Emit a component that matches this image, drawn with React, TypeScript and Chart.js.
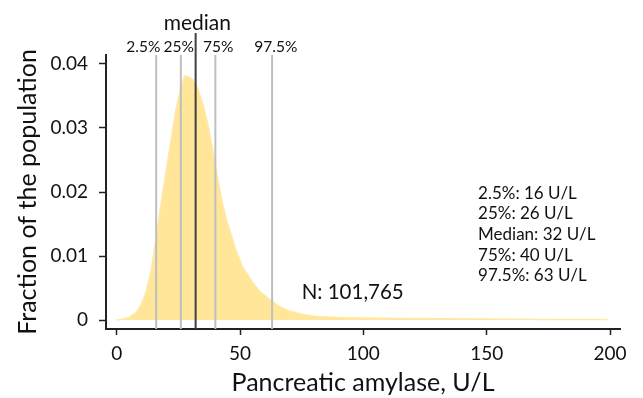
import { useEffect, useRef } from 'react';
import { Chart, registerables } from 'chart.js';

Chart.register(...registerables);

const FONT = 'Lato, "Open Sans", sans-serif';

// Density curve: amylase (U/L) vs fraction of the population
const amylase = [0, 2, 5, 8, 10, 12, 14, 16, 18, 20, 22, 24, 26, 27.5, 29, 31, 33, 35, 37, 39, 41, 43, 45, 48, 51, 55, 58, 62, 66, 70, 75, 80, 90, 100, 115, 130, 150, 175, 199];
const fraction = [0, 0.0001, 0.0004, 0.0012, 0.0024, 0.0045, 0.0078, 0.0128, 0.0182, 0.0232, 0.0280, 0.0328, 0.0362, 0.0381, 0.0380, 0.0375, 0.0360, 0.0336, 0.0305, 0.0264, 0.0220, 0.0180, 0.0150, 0.0113, 0.0083, 0.0059, 0.0045, 0.0032, 0.0021, 0.0014, 0.0009, 0.0006, 0.0004, 0.00032, 0.00025, 0.0002, 0.00015, 0.0001, 0.0001];

const xTicks = [0, 50, 100, 150, 200];
const yTicks = [0, 0.01, 0.02, 0.03, 0.04];
const xRange = [-4.34, 204.05];
const yRange = [-0.0014, 0.0414];

const percentileValues = [16, 26, 40, 63];
const percentileLabels = ['2.5%', '25%', '75%', '97.5%'];
const percentileLabelPos = [10.8, 25.1, 41.2, 64.5];
const medianValue = 32;
const medianLabel = 'median';
const medianLabelPos = 32.7;

const summaryLines = ['2.5%: 16 U/L', '25%: 26 U/L', 'Median: 32 U/L', '75%: 40 U/L', '97.5%: 63 U/L'];
const summaryPos = [146.5, 0.0199];
const nLabel = 'N: 101,765';
const nPos = [75, 0.00435];

const xTitle = 'Pancreatic amylase, U/L';
const yTitle = 'Fraction of the population';

const annotations = {
  id: 'annotations',
  afterDatasetsDraw(chart: any) {
    const { ctx, chartArea, scales } = chart;
    const x = scales.x;
    const y = scales.y;
    ctx.save();
    ctx.lineWidth = 2;
    ctx.strokeStyle = '#bfbfbf';
    percentileValues.forEach((v) => {
      const px = x.getPixelForValue(v);
      ctx.beginPath();
      ctx.moveTo(px, chartArea.top);
      ctx.lineTo(px, chartArea.bottom);
      ctx.stroke();
    });
    ctx.strokeStyle = '#404040';
    const mx = x.getPixelForValue(medianValue);
    ctx.beginPath();
    ctx.moveTo(mx, chartArea.top - 22);
    ctx.lineTo(mx, chartArea.bottom);
    ctx.stroke();

    ctx.fillStyle = '#111';
    ctx.textAlign = 'center';
    ctx.textBaseline = 'alphabetic';
    ctx.font = `15.5px ${FONT}`;
    percentileLabels.forEach((t, i) => {
      ctx.fillText(t, x.getPixelForValue(percentileLabelPos[i]), chartArea.top - 3.5);
    });
    ctx.font = `21px ${FONT}`;
    ctx.fillText(medianLabel, x.getPixelForValue(medianLabelPos), chartArea.top - 25.5);

    ctx.textAlign = 'left';
    ctx.font = `17px ${FONT}`;
    const sx = x.getPixelForValue(summaryPos[0]);
    const sy = y.getPixelForValue(summaryPos[1]);
    summaryLines.forEach((t, i) => {
      ctx.fillText(t, sx, sy + 6 + i * 20.7);
    });
    ctx.font = `20.5px ${FONT}`;
    ctx.fillText(nLabel, x.getPixelForValue(nPos[0]), y.getPixelForValue(nPos[1]) + 7);
    ctx.restore();
  },
};

export default function App() {
  const ref = useRef<HTMLCanvasElement | null>(null);
  useEffect(() => {
    if (!ref.current) return;
    const chart = new Chart(ref.current, {
      type: 'line',
      data: {
        datasets: [
          {
            data: amylase.map((a, i) => ({ x: a, y: fraction[i] })),
            backgroundColor: '#FFE699',
            borderColor: '#FFE9A6',
            borderWidth: 1.5,
            fill: 'origin',
            pointRadius: 0,
            tension: 0,
          },
        ],
      },
      options: {
        responsive: false,
        animation: false,
        plugins: { legend: { display: false }, tooltip: { enabled: false } },
        layout: { padding: { top: 55, right: 23, left: 0, bottom: 0 } },
        scales: {
          x: {
            type: 'linear',
            min: xRange[0],
            max: xRange[1],
            afterBuildTicks: (s: any) => {
              s.ticks = xTicks.map((v) => ({ value: v }));
            },
            afterFit: (s: any) => {
              s.height = 69;
            },
            grid: { drawOnChartArea: false, drawTicks: true, tickLength: 6, tickWidth: 1.5, tickColor: '#222' },
            border: { display: true, color: '#222', width: 2 },
            ticks: { color: '#111', font: { family: FONT, size: 19 }, padding: 7, maxRotation: 0, autoSkip: false },
            title: { display: true, text: xTitle, color: '#111', font: { family: FONT, size: 25 }, padding: { top: 0, bottom: 0 } },
          },
          y: {
            type: 'linear',
            min: yRange[0],
            max: yRange[1],
            afterBuildTicks: (s: any) => {
              s.ticks = yTicks.map((v) => ({ value: v }));
            },
            afterFit: (s: any) => {
              s.width = 106;
            },
            grid: { drawOnChartArea: false, drawTicks: true, tickLength: 7, tickWidth: 1.5, tickColor: '#222' },
            border: { display: true, color: '#222', width: 2 },
            ticks: {
              color: '#111',
              font: { family: FONT, size: 19 },
              padding: 11,
              autoSkip: false,
              callback: (v: any) => (Number(v) === 0 ? '0' : Number(v).toFixed(2)),
            },
            title: { display: true, text: yTitle, color: '#111', font: { family: FONT, size: 25 }, padding: { top: 13, bottom: 0 } },
          },
        },
      },
      plugins: [annotations],
    });
    return () => chart.destroy();
  }, []);
  return (
    <div style={{ position: 'fixed', left: 0, top: 0, width: 643, height: 398, background: '#fff' }}>
      <canvas ref={ref} width={643} height={398} style={{ display: 'block' }} />
    </div>
  );
}
